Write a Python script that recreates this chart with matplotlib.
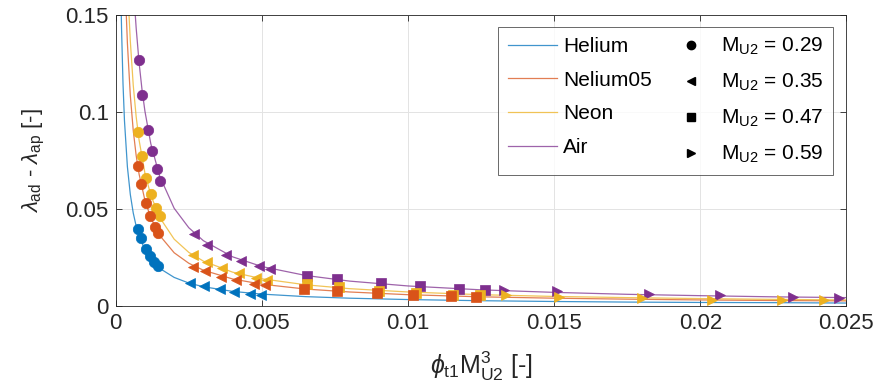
import numpy as np
import matplotlib
matplotlib.use('Agg')
import matplotlib.pyplot as plt
from matplotlib.lines import Line2D

plt.rcParams['font.family'] = ['Liberation Sans', 'DejaVu Sans']
plt.rcParams['mathtext.fontset'] = 'custom'
plt.rcParams['mathtext.rm'] = 'Liberation Sans'
plt.rcParams['mathtext.it'] = 'Liberation Sans:italic'
plt.rcParams['mathtext.sf'] = 'Liberation Sans'

fluids = ['Helium', 'Nelium05', 'Neon', 'Air']
colors = ['#0072BD', '#D95319', '#EDB120', '#7E2F8E']
mach_labels = ['0.29', '0.35', '0.47', '0.59']
markers = ['o', '<', 's', '>']

# measured points, one list per fluid (None = no data for that fluid)
m029_x = [[0.00075, 0.00087, 0.00105, 0.00116, 0.00131, 0.00145],
          [0.00075, 0.00087, 0.00103, 0.00119, 0.00136, 0.00146],
          [0.00078, 0.00089, 0.00105, 0.00121, 0.00139, 0.00151],
          [0.00079, 0.00089, 0.00111, 0.00124, 0.00141, 0.00152]]
m029_y = [[0.0395, 0.0349, 0.0292, 0.0258, 0.0228, 0.0208],
          [0.0723, 0.0627, 0.0533, 0.0466, 0.0407, 0.0375],
          [0.0895, 0.0773, 0.0658, 0.0577, 0.0504, 0.0464],
          [0.1266, 0.1089, 0.0907, 0.0799, 0.0705, 0.0646]]

m035_x = [[0.00253, 0.00301, 0.00356, 0.00405, 0.00459, 0.00497],
          [0.00265, 0.00305, 0.00360, 0.00413, 0.00473, 0.00511],
          [0.00265, 0.00311, 0.00364, 0.00421, 0.00481, 0.00516],
          [0.00268, 0.00314, 0.00376, 0.00427, 0.00490, 0.00528]]
m035_y = [[0.0117, 0.0103, 0.0088, 0.0074, 0.0065, 0.0058],
          [0.0203, 0.0182, 0.0151, 0.0134, 0.0115, 0.0110],
          [0.0265, 0.0227, 0.0196, 0.0170, 0.0146, 0.0134],
          [0.0370, 0.0314, 0.0265, 0.0235, 0.0206, 0.0192]]

m047_x = [None,
          [0.00645, 0.00756, 0.00895, 0.01017, 0.01148, 0.01232],
          [0.00653, 0.00763, 0.00900, 0.01026, 0.01155, 0.01246],
          [0.00656, 0.00758, 0.00908, 0.01041, 0.01176, 0.01264]]
m047_y = [None,
          [0.0088, 0.0076, 0.0067, 0.0055, 0.0052, 0.0046],
          [0.0113, 0.0098, 0.0079, 0.0069, 0.0060, 0.0055],
          [0.0155, 0.0138, 0.0117, 0.0102, 0.0089, 0.0082]]

m059_x = [None, None,
          [0.01334, 0.01517, 0.01802, 0.02040, 0.02280, 0.02422],
          [0.01330, 0.01509, 0.01823, 0.02066, 0.02316, 0.02474]]
m059_y = [None, None,
          [0.0057, 0.0048, 0.0040, 0.0034, 0.0034, 0.0031],
          [0.0082, 0.0077, 0.0063, 0.0057, 0.0046, 0.0043]]

# fitted curves
fit_x_he = [0.00018, 0.0002, 0.00025, 0.0003, 0.0004, 0.0005, 0.0006, 0.0007, 0.0008, 0.001,
            0.0012, 0.0015, 0.002, 0.0025, 0.003, 0.004, 0.005, 0.0065, 0.008, 0.01,
            0.0125, 0.015, 0.0175, 0.02, 0.0225, 0.025]
fit_y_he = [0.159, 0.143, 0.1145, 0.0955, 0.0718, 0.0575, 0.048, 0.0412, 0.0361, 0.0290,
            0.0243, 0.0195, 0.0148, 0.0119, 0.0100, 0.0076, 0.0062, 0.0049, 0.0041, 0.0034,
            0.0028, 0.0024, 0.0021, 0.0019, 0.0018, 0.0016]
fit_x_ne05 = [0.00035, 0.0004, 0.0005, 0.0006, 0.0007, 0.0008, 0.001, 0.0012, 0.0015, 0.002,
              0.0025, 0.003, 0.004, 0.005, 0.0065, 0.008, 0.01, 0.0125, 0.015, 0.0175,
              0.02, 0.0225, 0.025]
fit_y_ne05 = [0.155, 0.1355, 0.1085, 0.0905, 0.0776, 0.068, 0.0545, 0.0455, 0.0365, 0.0275,
              0.0221, 0.0185, 0.014, 0.0113, 0.0088, 0.0073, 0.0059, 0.0048, 0.0041, 0.0036,
              0.0032, 0.0029, 0.0027]
fit_x_neon = [0.00045, 0.0005, 0.0006, 0.0007, 0.0008, 0.001, 0.0012, 0.0015, 0.002, 0.0025,
              0.003, 0.004, 0.005, 0.0065, 0.008, 0.01, 0.0125, 0.015, 0.0175, 0.02,
              0.0225, 0.025]
fit_y_neon = [0.1516, 0.1365, 0.1138, 0.0976, 0.0855, 0.0685, 0.0572, 0.0458, 0.0345, 0.0277,
              0.0232, 0.0175, 0.0141, 0.0110, 0.0090, 0.0073, 0.0059, 0.0050, 0.0044, 0.0039,
              0.0035, 0.0032]
fit_x_air = [0.00065, 0.0007, 0.0008, 0.0009, 0.001, 0.0012, 0.0015, 0.002, 0.0025, 0.003,
             0.004, 0.005, 0.0065, 0.008, 0.01, 0.0125, 0.015, 0.0175, 0.02, 0.0225, 0.025]
fit_y_air = [0.1542, 0.1433, 0.1254, 0.1115, 0.1004, 0.0837, 0.0671, 0.0504, 0.0404, 0.0337,
             0.0254, 0.0204, 0.0158, 0.0129, 0.0104, 0.0084, 0.0071, 0.0061, 0.0054, 0.0048,
             0.0044]

fit_x = [fit_x_he, fit_x_ne05, fit_x_neon, fit_x_air]
fit_y = [fit_y_he, fit_y_ne05, fit_y_neon, fit_y_air]

fig = plt.figure(figsize=(8.9, 3.91), dpi=100)
ax = fig.add_axes([0.130, 0.217, 0.821, 0.745])

for i in range(len(fluids)):
    ax.plot(fit_x[i], fit_y[i], color=colors[i], lw=0.9, alpha=0.75, zorder=2)

all_x = [m029_x, m035_x, m047_x, m059_x]
all_y = [m029_y, m035_y, m047_y, m059_y]
for i in reversed(range(len(fluids))):
    for k in range(len(markers)):
        if all_x[k][i] is None:
            continue
        ax.plot(all_x[k][i], all_y[k][i], ls='none', marker=markers[k], ms=7.5,
                color=colors[i], mec=colors[i], mew=0.5, zorder=3)

ax.set_xlim(0, 0.025)
ax.set_ylim(0, 0.15)
ax.set_xticks([0, 0.005, 0.01, 0.015, 0.02, 0.025])
ax.set_xticklabels(['0', '0.005', '0.01', '0.015', '0.02', '0.025'])
ax.set_yticks([0, 0.05, 0.1, 0.15])
ax.set_yticklabels(['0', '0.05', '0.1', '0.15'])
ax.tick_params(direction='in', top=True, right=True, labelsize=16, colors='#262626',
               length=4, width=0.6, pad=5)
ax.grid(True, color='#e3e3e3', lw=0.7)
ax.set_axisbelow(True)
for s in ax.spines.values():
    s.set_color('#262626')
    s.set_linewidth(0.6)

ax.set_xlabel(r'$\phi_{\rm t1}$M$^3_{\rm U2}$ [-]', fontsize=18, color='#262626', labelpad=11)
ax.set_ylabel(r'$\lambda_{\rm ad}$ - $\lambda_{\rm ap}$ [-]', fontsize=16, color='#262626',
              labelpad=13)

handles = [Line2D([], [], color=c, lw=0.9, alpha=0.75) for c in colors]
handles += [Line2D([], [], ls='none', marker=m, color='black', ms=6) for m in markers]
labels = fluids + [r'M$_{\rm U2}$ = ' + v for v in mach_labels]
leg = ax.legend(handles, labels, ncol=2, loc='upper right', bbox_to_anchor=(0.982, 0.959),
                fontsize=15, frameon=True, fancybox=False, handlelength=2.35,
                handletextpad=0.3, columnspacing=0.7, labelspacing=0.7,
                borderpad=0.45, borderaxespad=0)
leg.get_frame().set_edgecolor('#262626')
leg.get_frame().set_linewidth(0.6)

fig.savefig('out.png', dpi=100)
